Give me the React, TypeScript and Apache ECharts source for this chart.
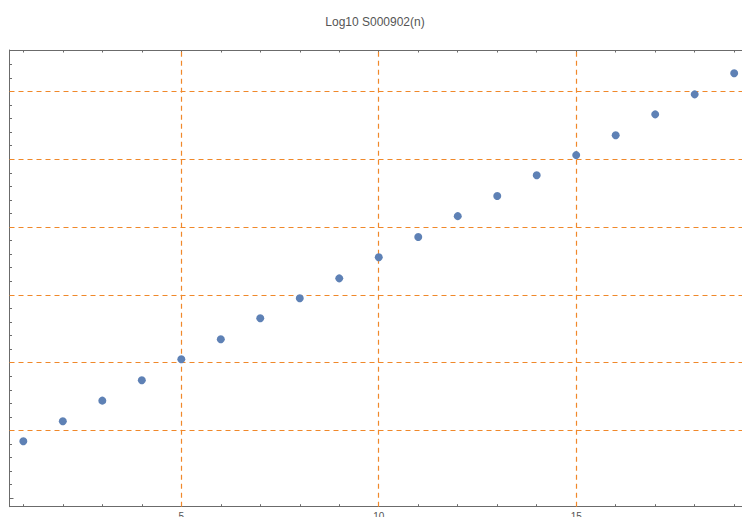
import React, { useEffect, useRef } from "react";
import * as echarts from "echarts";

const nValues = [1, 2, 3, 4, 5, 6, 7, 8, 9, 10, 11, 12, 13, 14, 15, 16, 17, 18, 19];
const logValues = [0.84, 1.135, 1.44, 1.74, 2.049, 2.344, 2.654, 2.949, 3.243, 3.553, 3.852, 4.16, 4.457, 4.763, 5.06, 5.352, 5.661, 5.956, 6.266];
const xMajorTicks = [5, 10, 15];
const xMinorTicks = [1, 2, 3, 4, 5, 6, 7, 8, 9, 10, 11, 12, 13, 14, 15, 16, 17, 18, 19];
const yMajorTicks = [0, 1, 2, 3, 4, 5, 6];
const yMinorTicks = [0, 0.2, 0.4, 0.6, 0.8, 1, 1.2, 1.4, 1.6, 1.8, 2, 2.2, 2.4, 2.6, 2.8, 3, 3.2, 3.4, 3.6, 3.8, 4, 4.2, 4.4, 4.6, 4.8, 5, 5.2, 5.4, 5.6, 5.8, 6, 6.2, 6.4, 6.6];
const xGridLines = [5, 10, 15];
const yGridLines = [1, 2, 3, 4, 5, 6];
const titleText = "Log10 S000902(n)";

const AXIS_COLOR = "#6b6b6b";
const LABEL_COLOR = "#555555";
const GRID_COLOR = "#f0882a";
const POINT_COLOR = "#5e81b5";
const FONT = "Liberation Sans, Arial, sans-serif";

const X_MIN = 0.65;
const X_MAX = 19.35;
const Y_MIN = -0.124;
const Y_MAX = 6.61;

function makeX(position: "bottom" | "top", ticks: number[], len: number, labels: boolean, line: boolean) {
  return {
    type: "value",
    position,
    min: X_MIN,
    max: X_MAX,
    axisLine: { show: line, onZero: false, lineStyle: { color: AXIS_COLOR, width: 1 } },
    axisTick: { show: true, inside: true, length: len, customValues: ticks, lineStyle: { color: AXIS_COLOR } },
    axisLabel: labels
      ? { show: true, customValues: ticks, color: LABEL_COLOR, fontSize: 10, margin: 5, fontFamily: FONT }
      : { show: false },
    splitLine: { show: false },
    minorTick: { show: false },
  };
}

function makeY(position: "left" | "right", ticks: number[], len: number, line: boolean) {
  return {
    type: "value",
    position,
    min: Y_MIN,
    max: Y_MAX,
    axisLine: { show: line, onZero: false, lineStyle: { color: AXIS_COLOR, width: 1 } },
    axisTick: { show: true, inside: true, length: len, customValues: ticks, lineStyle: { color: AXIS_COLOR } },
    axisLabel: { show: false },
    splitLine: { show: false },
    minorTick: { show: false },
  };
}

export default function App() {
  const ref = useRef<HTMLDivElement>(null);
  useEffect(() => {
    if (!ref.current) return;
    const chart = echarts.init(ref.current, undefined, { renderer: "svg" });
    const gridLineData: any[] = [
      ...xGridLines.map((v) => ({ xAxis: v })),
      ...yGridLines.map((v) => ({ yAxis: v })),
    ];
    chart.setOption({
      animation: false,
      backgroundColor: "#ffffff",
      title: {
        text: titleText,
        left: "center",
        top: 11,
        padding: [5, 5, 5, 12],
        textStyle: { color: LABEL_COLOR, fontSize: 12, fontWeight: "normal", fontFamily: FONT },
      },
      grid: { left: 9.5, right: 2, top: 50, bottom: 18.3, containLabel: false, outerBoundsMode: "none" },
      xAxis: [
        makeX("bottom", xMajorTicks, 4, true, true),
        makeX("bottom", xMinorTicks, 2.5, false, false),
        makeX("top", xMajorTicks, 4, false, true),
        makeX("top", xMinorTicks, 2.5, false, false),
      ],
      yAxis: [
        makeY("left", yMajorTicks, 4, true),
        makeY("left", yMinorTicks, 2.5, false),
        makeY("right", yMajorTicks, 4, true),
        makeY("right", yMinorTicks, 2.5, false),
      ],
      series: [
        {
          type: "scatter",
          xAxisIndex: 0,
          yAxisIndex: 0,
          symbol: "circle",
          symbolSize: 8,
          itemStyle: { color: POINT_COLOR, opacity: 1 },
          data: nValues.map((n, i) => [n, logValues[i]]),
          z: 5,
          markLine: {
            silent: true,
            symbol: "none",
            label: { show: false },
            lineStyle: { color: GRID_COLOR, type: [5, 4], width: 1.2, opacity: 1 },
            data: gridLineData,
            z: 1,
          },
        },
      ],
    });
    // y tick labels placed through the chart's own y scale
    const labelElements = yMajorTicks.map((v) => {
      const p = chart.convertToPixel({ xAxisIndex: 0, yAxisIndex: 0 }, [X_MIN, v]) as number[];
      return {
        type: "text",
        x: p[0] - 4,
        y: p[1],
        silent: true,
        z: 100,
        style: {
          text: String(v),
          fill: LABEL_COLOR,
          font: "10px " + FONT,
          textAlign: "right",
          textVerticalAlign: "middle",
        },
      };
    });
    chart.setOption({ graphic: labelElements });
    return () => chart.dispose();
  }, []);
  return <div ref={ref} style={{ width: 750, height: 525, margin: -8 }} />;
}
